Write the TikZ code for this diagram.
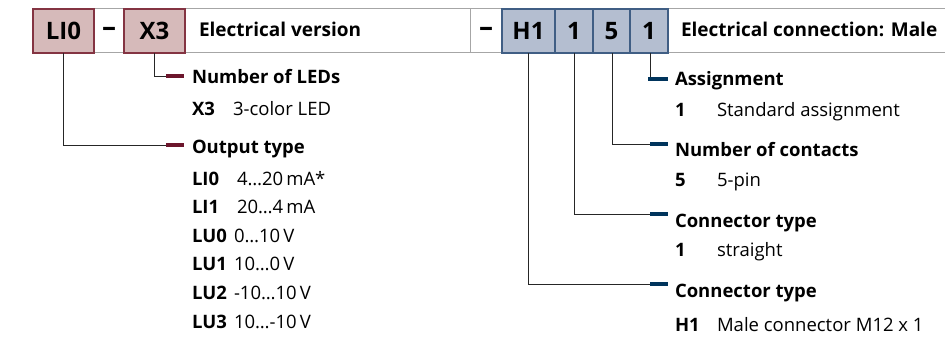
\documentclass[tikz,border=0pt]{standalone}
\usepackage{fontspec}
\setmainfont{Open Sans}
\begin{document}
\begin{tikzpicture}[x=1pt,y=-1pt,
  every node/.style={inner sep=0pt, outer sep=0pt},
  cell/.style={anchor=north west, minimum height=44pt, font=\bfseries\fontsize{24}{26}\selectfont},
  wcell/.style={cell, fill=winefill, draw=wineline, line width=1.1pt},
  bcell/.style={cell, fill=bluefill, draw=blueline, line width=1.1pt},
  dashcell/.style={anchor=center, font=\bfseries\fontsize{28}{30}\selectfont},
  headlabel/.style={anchor=base west, font=\bfseries\fontsize{19}{22}\selectfont},
  title/.style={anchor=base west, font=\bfseries\fontsize{18.5}{22}\selectfont},
  code/.style={anchor=base west, font=\bfseries\fontsize{18.5}{22}\selectfont},
  value/.style={anchor=base west, font=\fontsize{18.5}{22}\selectfont},
  lead/.style={draw=black!85, line width=0.8pt},
  wbar/.style={draw=winebar, line width=4pt},
  bbar/.style={draw=bluebar, line width=4pt},
  frame/.style={draw=black!35, line width=1pt}]
\definecolor{winefill}{RGB}{214,186,186}
\definecolor{wineline}{RGB}{132,52,66}
\definecolor{winebar}{RGB}{108,22,44}
\definecolor{bluefill}{RGB}{180,190,208}
\definecolor{blueline}{RGB}{64,94,132}
\definecolor{bluebar}{RGB}{0,52,92}
\useasboundingbox (0,0) rectangle (945,337);

% grey frame of the white header cells
\draw[frame] (94,9) -- (945,9);
\draw[frame] (94,53) -- (945,53);
\draw[frame] (470,9) -- (470,53);

% coded header cells
\node[wcell, minimum width=61pt] (li) at (33,9) {LI0};
\node[wcell, minimum width=61pt] (x3) at (124,9) {X3};
\node[bcell, minimum width=53pt] (h1) at (502,9) {H1};
\node[bcell, minimum width=38pt] (ct) at (555,9) {1};
\node[bcell, minimum width=37pt] (nc) at (593,9) {5};
\node[bcell, minimum width=38pt] (as) at (630,9) {1};

\node[dashcell] (d1) at (109,32) {–};
\node[dashcell] (d2) at (486,32) {–};
\node[headlabel] (hl) at (199,37) {Electrical version};
\node[headlabel] (hr) at (681,37) {Electrical connection: Male};

% left branch: number of LEDs
\coordinate (kx3) at (166,76);
\draw[lead] (x3.south -| 154,0) |- (kx3);
\draw[wbar] (kx3) -- ++(18,0);
\node[title] (tx3) at (192,84) {Number of LEDs};
\node[code] (cx3) at (192,115) {X3};
\node[value] at (233,115) {3-color LED};

% left branch: output type
\coordinate (kli) at (166,145);
\draw[lead] (li.south -| 63,0) |- (kli);
\draw[wbar] (kli) -- ++(18,0);
\node[title] (tli) at (192,153) {Output type};
\node[code] at (192,185) {LI0};
\node[value] at (237,185) {4…20\,mA*};
\node[code] at (192,213.6) {LI1};
\node[value] at (237,213.6) {20…4\,mA};
\node[code] at (192,242.2) {LU0};
\node[value] at (234,242.2) {0…10\,V};
\node[code] at (192,270.8) {LU1};
\node[value] at (234,270.8) {10…0\,V};
\node[code] at (192,299.4) {LU2};
\node[value] at (234,299.4) {-10…10\,V};
\node[code] at (192,328) {LU3};
\node[value] at (234,328) {10…-10\,V};

% right branch: assignment
\coordinate (kas) at (650,79.5);
\draw[lead] (as.south -| 650,0) -- (kas);
\draw[bbar] (648,79.5) -- ++(20,0);
\node[title] (tas) at (675,85) {Assignment};
\node[code] at (675,116) {1};
\node[value] at (717,116) {Standard assignment};

% right branch: number of contacts
\coordinate (knc) at (650,144);
\draw[lead] (nc.south -| 612,0) |- (knc);
\draw[bbar] (knc) -- ++(18,0);
\node[title] (tnc) at (675,156) {Number of contacts};
\node[code] at (675,186) {5};
\node[value] at (717,186) {5-pin};

% right branch: connector type
\coordinate (kct) at (650,214);
\draw[lead] (ct.south -| 574,0) |- (kct);
\draw[bbar] (kct) -- ++(18,0);
\node[title] (tct) at (675,227) {Connector type};
\node[code] at (675,256) {1};
\node[value] at (717,256) {straight};

% right branch: connector type (H1)
\coordinate (kh1) at (650,284);
\draw[lead] (h1.south -| 528,0) |- (kh1);
\draw[bbar] (kh1) -- ++(18,0);
\node[title] (th1) at (675,297) {Connector type};
\node[code] at (675,331) {H1};
\node[value] at (717,331) {Male connector M12 x 1};
\end{tikzpicture}
\end{document}
